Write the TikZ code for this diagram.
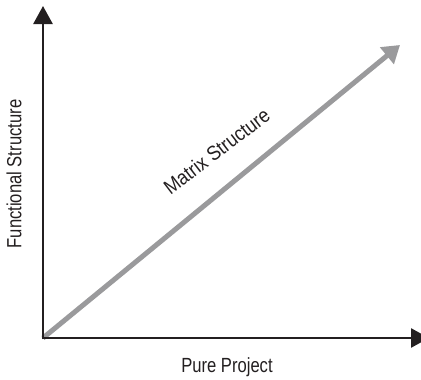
\documentclass[tikz,border=0pt]{standalone}
\usepackage{fontspec}
\setmainfont{Liberation Sans}[FakeStretch=0.81]
\newfontfamily\diagfont{Liberation Sans}[FakeStretch=0.88]
\usetikzlibrary{arrows.meta}
\definecolor{ink}{HTML}{231F20}
\definecolor{matrixgray}{HTML}{9A9A9C}
\tikzset{
  axis/.style={draw=ink, line width=2.6pt, -{Triangle[length=18pt,width=19pt]}},
  diag/.style={draw=matrixgray, line width=5pt, -{Triangle[length=17pt,width=21pt]}},
  label/.style={text=ink, font=\fontsize{20.5}{22}\selectfont, inner sep=0pt}
}
\begin{document}
\begin{tikzpicture}[x=1pt,y=-1pt]
  \useasboundingbox (0,0) rectangle (421,380);
  \coordinate (origin) at (43,338);
  \coordinate (ytip) at (43,6);
  \coordinate (xtip) at (429,338);
  \coordinate (dtip) at (400,45);
  % diagonal (matrix) arrow
  \draw[diag] (origin) -- (dtip);
  % axes
  \draw[axis] ([yshift=-1.3pt]origin) -- (ytip);
  \draw[axis] ([xshift=-1.3pt]origin) -- (xtip);
  % labels
  \node[label, anchor=base] (xlab) at (227,372) {Pure Project};
  \node[label, rotate=90] (ylab) at (14,174) {Functional Structure};
  \node[label, font=\diagfont\fontsize{20.5}{22}\selectfont, anchor=base, rotate=37.5] (dlab) at (221,157) {Matrix Structure};
\end{tikzpicture}
\end{document}
